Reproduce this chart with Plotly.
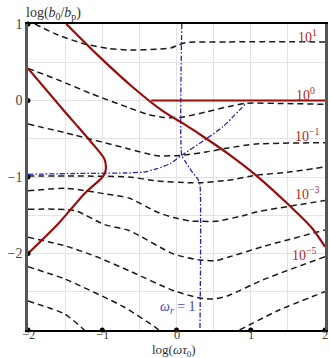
import plotly.graph_objects as go

# ---- contour lines of constant ratio (dashed), labelled by level ----
c1e1_x = [-1.907, -1.596, -1.24, -0.929, -0.64, -0.263, -0.08, 0.027, 0.116, 0.693, 2.0]
c1e1_y = [1.0, 0.856, 0.739, 0.682, 0.66, 0.669, 0.686, 0.725, 0.756, 0.766, 0.766]

c1e0_x = [-2.0, -1.596, -1.151, -0.64, -0.4, -0.173, 0.071, 0.4, 0.693, 0.937, 1.493, 2.0]
c1e0_y = [0.42, 0.27, 0.09, -0.095, -0.178, -0.222, -0.218, -0.15, -0.081, -0.037, -0.04, -0.05]

c1em1_x = [-2.0, -1.373, -0.64, -0.263, 0.071, 0.4, 0.693, 1.067, 2.0]
c1em1_y = [-0.307, -0.451, -0.634, -0.722, -0.716, -0.673, -0.621, -0.569, -0.552]

c1em2_x = [-2.0, -1.373, -0.64, -0.263, 0.183, 0.316, 0.693, 1.071, 1.516, 2.0]
c1em2_y = [-0.987, -0.987, -1.0, -1.052, -1.075, -1.075, -1.043, -0.978, -0.935, -0.869]

c1em3_x = [-2.0, -1.484, -0.951, -0.64, -0.263, -0.04, 0.187, 0.316, 0.533, 0.933, 1.071, 2.0]
c1em3_y = [-1.18, -1.148, -1.222, -1.275, -1.458, -1.53, -1.575, -1.579, -1.579, -1.497, -1.458, -1.307]

c1em4_x = [-2.0, -1.373, -0.973, -0.64, -0.04, 0.316, 0.533, 0.693, 1.16, 2.0]
c1em4_y = [-1.422, -1.438, -1.621, -1.699, -2.007, -2.085, -2.094, -2.05, -1.911, -1.693]

c1em5_x = [-2.0, -1.507, -1.067, -0.64, -0.04, 0.316, 0.493, 0.693, 1.16, 2.0]
c1em5_y = [-1.788, -1.898, -2.046, -2.225, -2.486, -2.582, -2.595, -2.552, -2.346, -2.042]

c1em6_x = [-2.0, -1.507, -0.707, -0.284, -0.24, None, 0.849, 1.383, 2.0]
c1em6_y = [-2.173, -2.333, -2.699, -2.965, -3.0, None, -3.0, -2.739, -2.499]

c1em7_x = [-2.0, -1.507, -1.24]
c1em7_y = [-2.621, -2.791, -3.0]

# ---- boundary curves (solid) ----
edge_upper_x = [-1.484, -1.04, -0.596, -0.173, 0.093, 0.404, 0.693, 1.071, 1.471, 1.827, 2.0]
edge_upper_y = [1.0, 0.573, 0.18, -0.146, -0.303, -0.5, -0.695, -0.978, -1.327, -1.67, -1.911]

edge_flat_x = [-0.34, 2.0]
edge_flat_y = [0.0, 0.0]

edge_nose_x = [-2.0, -1.484, -1.33, -1.151, -0.973, -0.951, -0.975, -1.017, -1.24, -1.596, -2.0]
edge_nose_y = [0.42, -0.17, -0.34, -0.542, -0.76, -0.89, -0.97, -1.022, -1.218, -1.614, -2.0]

# ---- omega_r = 1 locus (dash-dot) ----
wr_a_x = [-2.0, -1.373, -0.707, -0.44, -0.263, -0.084, 0.071, 0.404, 0.627, 0.937]
wr_a_y = [-0.965, -0.954, -0.948, -0.935, -0.891, -0.826, -0.716, -0.499, -0.342, -0.036]

wr_b_x = [0.071, 0.071, 0.12, 0.2, 0.29, 0.316, 0.316]
wr_b_y = [1.0, -0.716, -0.80, -0.92, -1.03, -1.1, -3.0]

# ---- labels ----
level_text = ["10<sup>1</sup>", "10<sup>0</sup>", "10<sup>−1</sup>", "10<sup>−3</sup>", "10<sup>−5</sup>"]
level_x = [1.92, 1.89, 1.96, 1.96, 1.915]
level_y = [0.843, 0.085, -0.451, -1.209, -2.007]

x_ticks = [-2, -1, 0, 1, 2]
x_ticktext = ["−2", "−1", "0", "1", "2"]
y_ticks = [-2, -1, 0, 1]
y_ticktext = ["−2", "−1", "0", "1"]

dot_x = [-2, -2, -2, -2, -2, -1, 0, 1, 2]
dot_y = [1, 0, -1, -2, -3, -3, -3, -3, -3]

SERIF = "Liberation Serif"
DARKRED = "#9a0c0c"
LABELRED = "#b02a2a"
BLUE = "#2323b4"
GRID = "#e3e3e3"

fig = go.Figure()

dashed = [(c1e1_x, c1e1_y), (c1e0_x, c1e0_y), (c1em1_x, c1em1_y), (c1em2_x, c1em2_y),
          (c1em3_x, c1em3_y), (c1em4_x, c1em4_y), (c1em5_x, c1em5_y), (c1em6_x, c1em6_y),
          (c1em7_x, c1em7_y)]
for xs, ys in dashed:
    fig.add_trace(go.Scatter(x=xs, y=ys, mode="lines",
                             line=dict(color="#1a1a1a", width=1.5, dash="6px,4px",
                                       shape="spline", smoothing=0.6),
                             hoverinfo="skip", showlegend=False))

for xs, ys in [(wr_a_x, wr_a_y), (wr_b_x, wr_b_y)]:
    fig.add_trace(go.Scatter(x=xs, y=ys, mode="lines",
                             line=dict(color=BLUE, width=1.3, dash="5px,2px,1.5px,2px",
                                       shape="spline", smoothing=0.5),
                             hoverinfo="skip", showlegend=False))

for xs, ys in [(edge_upper_x, edge_upper_y), (edge_flat_x, edge_flat_y), (edge_nose_x, edge_nose_y)]:
    fig.add_trace(go.Scatter(x=xs, y=ys, mode="lines",
                             line=dict(color=DARKRED, width=2.2, shape="spline", smoothing=0.7),
                             hoverinfo="skip", showlegend=False))

fig.add_trace(go.Scatter(x=dot_x, y=dot_y, mode="markers",
                         marker=dict(color="black", size=5), cliponaxis=False,
                         hoverinfo="skip", showlegend=False))

for t, xv, yv in zip(level_text, level_x, level_y):
    fig.add_annotation(x=xv, y=yv, text=t, showarrow=False, xanchor="right", yanchor="middle",
                       font=dict(family=SERIF, size=14, color=LABELRED))

# x tick labels sit close under the axis line
for xv, t in zip(x_ticks, x_ticktext):
    fig.add_annotation(x=xv, xref="x", y=-0.017, yref="paper", text=t, showarrow=False,
                       xanchor="center", yanchor="middle", borderpad=0,
                       font=dict(family=SERIF, size=12.5, color="#444"))

fig.add_annotation(x=0.293, y=-2.712, text="<i>ω</i><sub><i>r</i></sub> = 1", showarrow=False,
                   xanchor="right", yanchor="middle",
                   font=dict(family=SERIF, size=14, color="#4646c8"))

fig.add_annotation(xref="paper", yref="paper", x=-0.012, y=1.035, xanchor="left", yanchor="middle",
                   text="log(<i>b</i><sub>0</sub>/<i>b</i><sub>p</sub>)", showarrow=False,
                   font=dict(family=SERIF, size=14, color="#333"))
fig.add_annotation(xref="paper", yref="paper", x=0.49, y=-0.067, xanchor="center", yanchor="middle",
                   text="log(<i>ωτ</i><sub>0</sub>)", showarrow=False, borderpad=0,
                   font=dict(family=SERIF, size=13, color="#333"))

fig.update_layout(
    width=330, height=358,
    margin=dict(l=28, r=2, t=24, b=28),
    paper_bgcolor="white", plot_bgcolor="white",
    xaxis=dict(range=[-2, 2], tickvals=x_ticks, showticklabels=False,
               showgrid=True, gridcolor=GRID, gridwidth=1, zeroline=False,
               minor=dict(dtick=0.5, showgrid=True, gridcolor=GRID, gridwidth=1, ticks=""),
               showline=True, linecolor="black", linewidth=2, mirror=True, ticks=""),
    yaxis=dict(range=[-3, 1], tickvals=y_ticks, ticktext=y_ticktext,
               showgrid=True, gridcolor=GRID, gridwidth=1, zeroline=False,
               minor=dict(dtick=0.5, showgrid=True, gridcolor=GRID, gridwidth=1, ticks=""),
               showline=True, linecolor="#555555", linewidth=2.5, mirror=True,
               ticks="", tickfont=dict(family=SERIF, size=14, color="#444")),
)

fig.write_html("out.html")
